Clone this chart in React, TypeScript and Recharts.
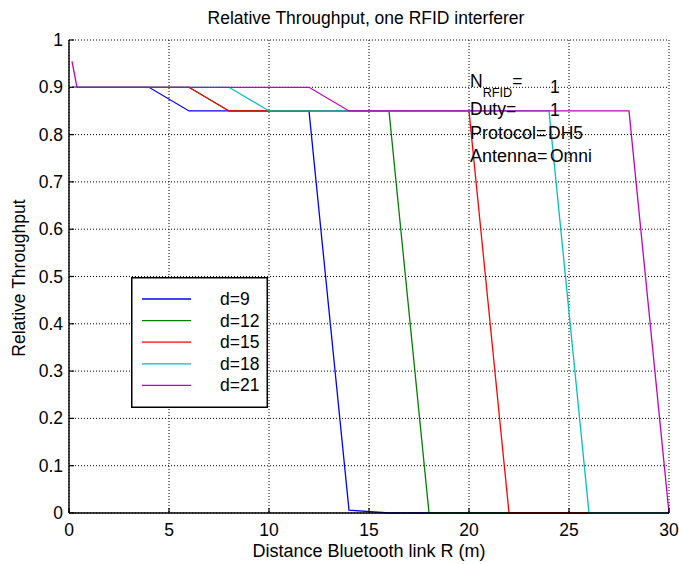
import React from "react";
import { LineChart, Line, XAxis, YAxis, CartesianGrid, Legend } from "recharts";

// distance R (m) sample points
const distances = [0.15, 0.4, 2, 4, 6, 8, 10, 12, 14, 16, 18, 20, 22, 24, 26, 28, 30];

const d9 = [0.9, 0.9, 0.9, 0.9, 0.85, 0.85, 0.85, 0.85, 0.006, 0, 0, 0, 0, 0, 0, 0, 0];
const d12 = [0.9, 0.9, 0.9, 0.9, 0.9, 0.85, 0.85, 0.85, 0.85, 0.85, 0, 0, 0, 0, 0, 0, 0];
const d15 = [0.9, 0.9, 0.9, 0.9, 0.9, 0.85, 0.85, 0.85, 0.85, 0.85, 0.85, 0.85, 0, 0, 0, 0, 0];
const d18 = [0.9, 0.9, 0.9, 0.9, 0.9, 0.9, 0.85, 0.85, 0.85, 0.85, 0.85, 0.85, 0.85, 0.85, 0, 0, 0];
const d21 = [0.955, 0.9, 0.9, 0.9, 0.9, 0.9, 0.9, 0.9, 0.85, 0.85, 0.85, 0.85, 0.85, 0.85, 0.85, 0.85, 0];

const xTicks = [0, 5, 10, 15, 20, 25, 30];
const yTicks = [0, 0.1, 0.2, 0.3, 0.4, 0.5, 0.6, 0.7, 0.8, 0.9, 1];

const series = [
  { key: "d9", name: "d=9", color: "#0000ff", values: d9 },
  { key: "d12", name: "d=12", color: "#008000", values: d12 },
  { key: "d15", name: "d=15", color: "#ff0000", values: d15 },
  { key: "d18", name: "d=18", color: "#00bfbf", values: d18 },
  { key: "d21", name: "d=21", color: "#bf00bf", values: d21 },
];

const data = distances.map((r, i) => {
  const row: any = { r };
  series.forEach((s) => (row[s.key] = s.values[i]));
  return row;
});

const FONT = "'Liberation Sans', Arial, sans-serif";
const FS = 17.5;

const BottomTick = (p: any) => (
  <g>
    <line x1={p.x} y1={p.y} x2={p.x} y2={p.y - 5} stroke="#000" strokeWidth={1.2} />
    <text x={p.x} y={p.y + 23} textAnchor="middle" fontSize={FS} fontFamily={FONT} fill="#000">
      {p.payload.value}
    </text>
  </g>
);
const LeftTick = (p: any) => (
  <g>
    <line x1={p.x} y1={p.y} x2={p.x + 5} y2={p.y} stroke="#000" strokeWidth={1.2} />
    <text x={p.x - 6} y={p.y + 6} textAnchor="end" fontSize={FS} fontFamily={FONT} fill="#000">
      {p.payload.value}
    </text>
  </g>
);
const TopTick = (p: any) => <line x1={p.x} y1={p.y} x2={p.x} y2={p.y + 5} stroke="#000" strokeWidth={1.2} />;
const RightTick = (p: any) => <line x1={p.x} y1={p.y} x2={p.x - 5} y2={p.y} stroke="#000" strokeWidth={1.2} />;

const LegendBox = () => (
  <svg width={137} height={131} style={{ display: "block" }}>
    <rect x={0.75} y={0.75} width={135.5} height={129.5} fill="#fff" stroke="#000" strokeWidth={1.5} />
    {series.map((s, i) => (
      <g key={s.key}>
        <line x1={11} x2={60} y1={22 + i * 21.6} y2={22 + i * 21.6} stroke={s.color} strokeWidth={1.3} />
        <text x={89} y={28 + i * 21.6} fontSize={FS} fontFamily={FONT} fill="#000">
          {s.name}
        </text>
      </g>
    ))}
  </svg>
);

const axisStroke = { stroke: "#000", strokeWidth: 1.4 };

export default function App() {
  return (
    <div style={{ position: "absolute", left: 0, top: 0, width: 679, height: 564, background: "#fff" }}>
      <LineChart width={679} height={564} data={data} margin={{ top: 40, right: 10, bottom: 21, left: 29 }}>
        <CartesianGrid stroke="#000" strokeDasharray="1 2" />
        <XAxis
          dataKey="r"
          type="number"
          domain={[0, 30]}
          ticks={xTicks}
          height={30}
          tickSize={0}
          tickMargin={0}
          tick={BottomTick}
          axisLine={axisStroke}
          tickLine={false}
        />
        <XAxis
          xAxisId="top"
          orientation="top"
          type="number"
          domain={[0, 30]}
          ticks={xTicks}
          height={0}
          tickSize={0}
          tickMargin={0}
          tick={TopTick}
          axisLine={axisStroke}
          tickLine={false}
        />
        <YAxis
          type="number"
          domain={[0, 1]}
          ticks={yTicks}
          width={40}
          tickSize={0}
          tickMargin={0}
          tick={LeftTick}
          axisLine={axisStroke}
          tickLine={false}
        />
        <YAxis
          yAxisId="right"
          orientation="right"
          type="number"
          domain={[0, 1]}
          ticks={yTicks}
          width={0}
          tickSize={0}
          tickMargin={0}
          tick={RightTick}
          axisLine={axisStroke}
          tickLine={false}
        />
        {series.map((s) => (
          <Line
            key={s.key}
            dataKey={s.key}
            name={s.name}
            stroke={s.color}
            strokeWidth={1.3}
            dot={false}
            type="linear"
            isAnimationActive={false}
          />
        ))}
        <Legend
          layout="vertical"
          align="center"
          verticalAlign="middle"
          content={() => <LegendBox />}
          wrapperStyle={{ position: "absolute", left: 131, top: 277, width: 137, height: 131 }}
        />
      </LineChart>
      <svg
        width={679}
        height={564}
        style={{ position: "absolute", left: 0, top: 0, pointerEvents: "none" }}
        fontFamily={FONT}
        fill="#000"
      >
        <text x={366} y={24} textAnchor="middle" fontSize={FS}>
          Relative Throughput, one RFID interferer
        </text>
        <text x={369} y={557} textAnchor="middle" fontSize={18}>
          Distance Bluetooth link R (m)
        </text>
        <text x={25} y={278} textAnchor="middle" fontSize={FS} transform="rotate(-90 25 278)">
          Relative Throughput
        </text>
        <text x={470} y={87} fontSize={17.5}>
          N
          <tspan dy={9.5} fontSize={12.7}>RFID</tspan>
          <tspan dy={-9.5} fontSize={17.5}>=</tspan>
        </text>
        <text x={550} y={92.5} fontSize={17.5}>1</text>
        <text x={470} y={115} fontSize={17.5}>Duty=</text>
        <text x={550} y={116} fontSize={17.5}>1</text>
        <text x={470} y={139} fontSize={18}>Protocol=</text>
        <text x={548} y={139} fontSize={17.5}>DH5</text>
        <text x={470} y={162} fontSize={18}>Antenna=</text>
        <text x={550} y={162} fontSize={17.5}>Omni</text>
      </svg>
    </div>
  );
}
